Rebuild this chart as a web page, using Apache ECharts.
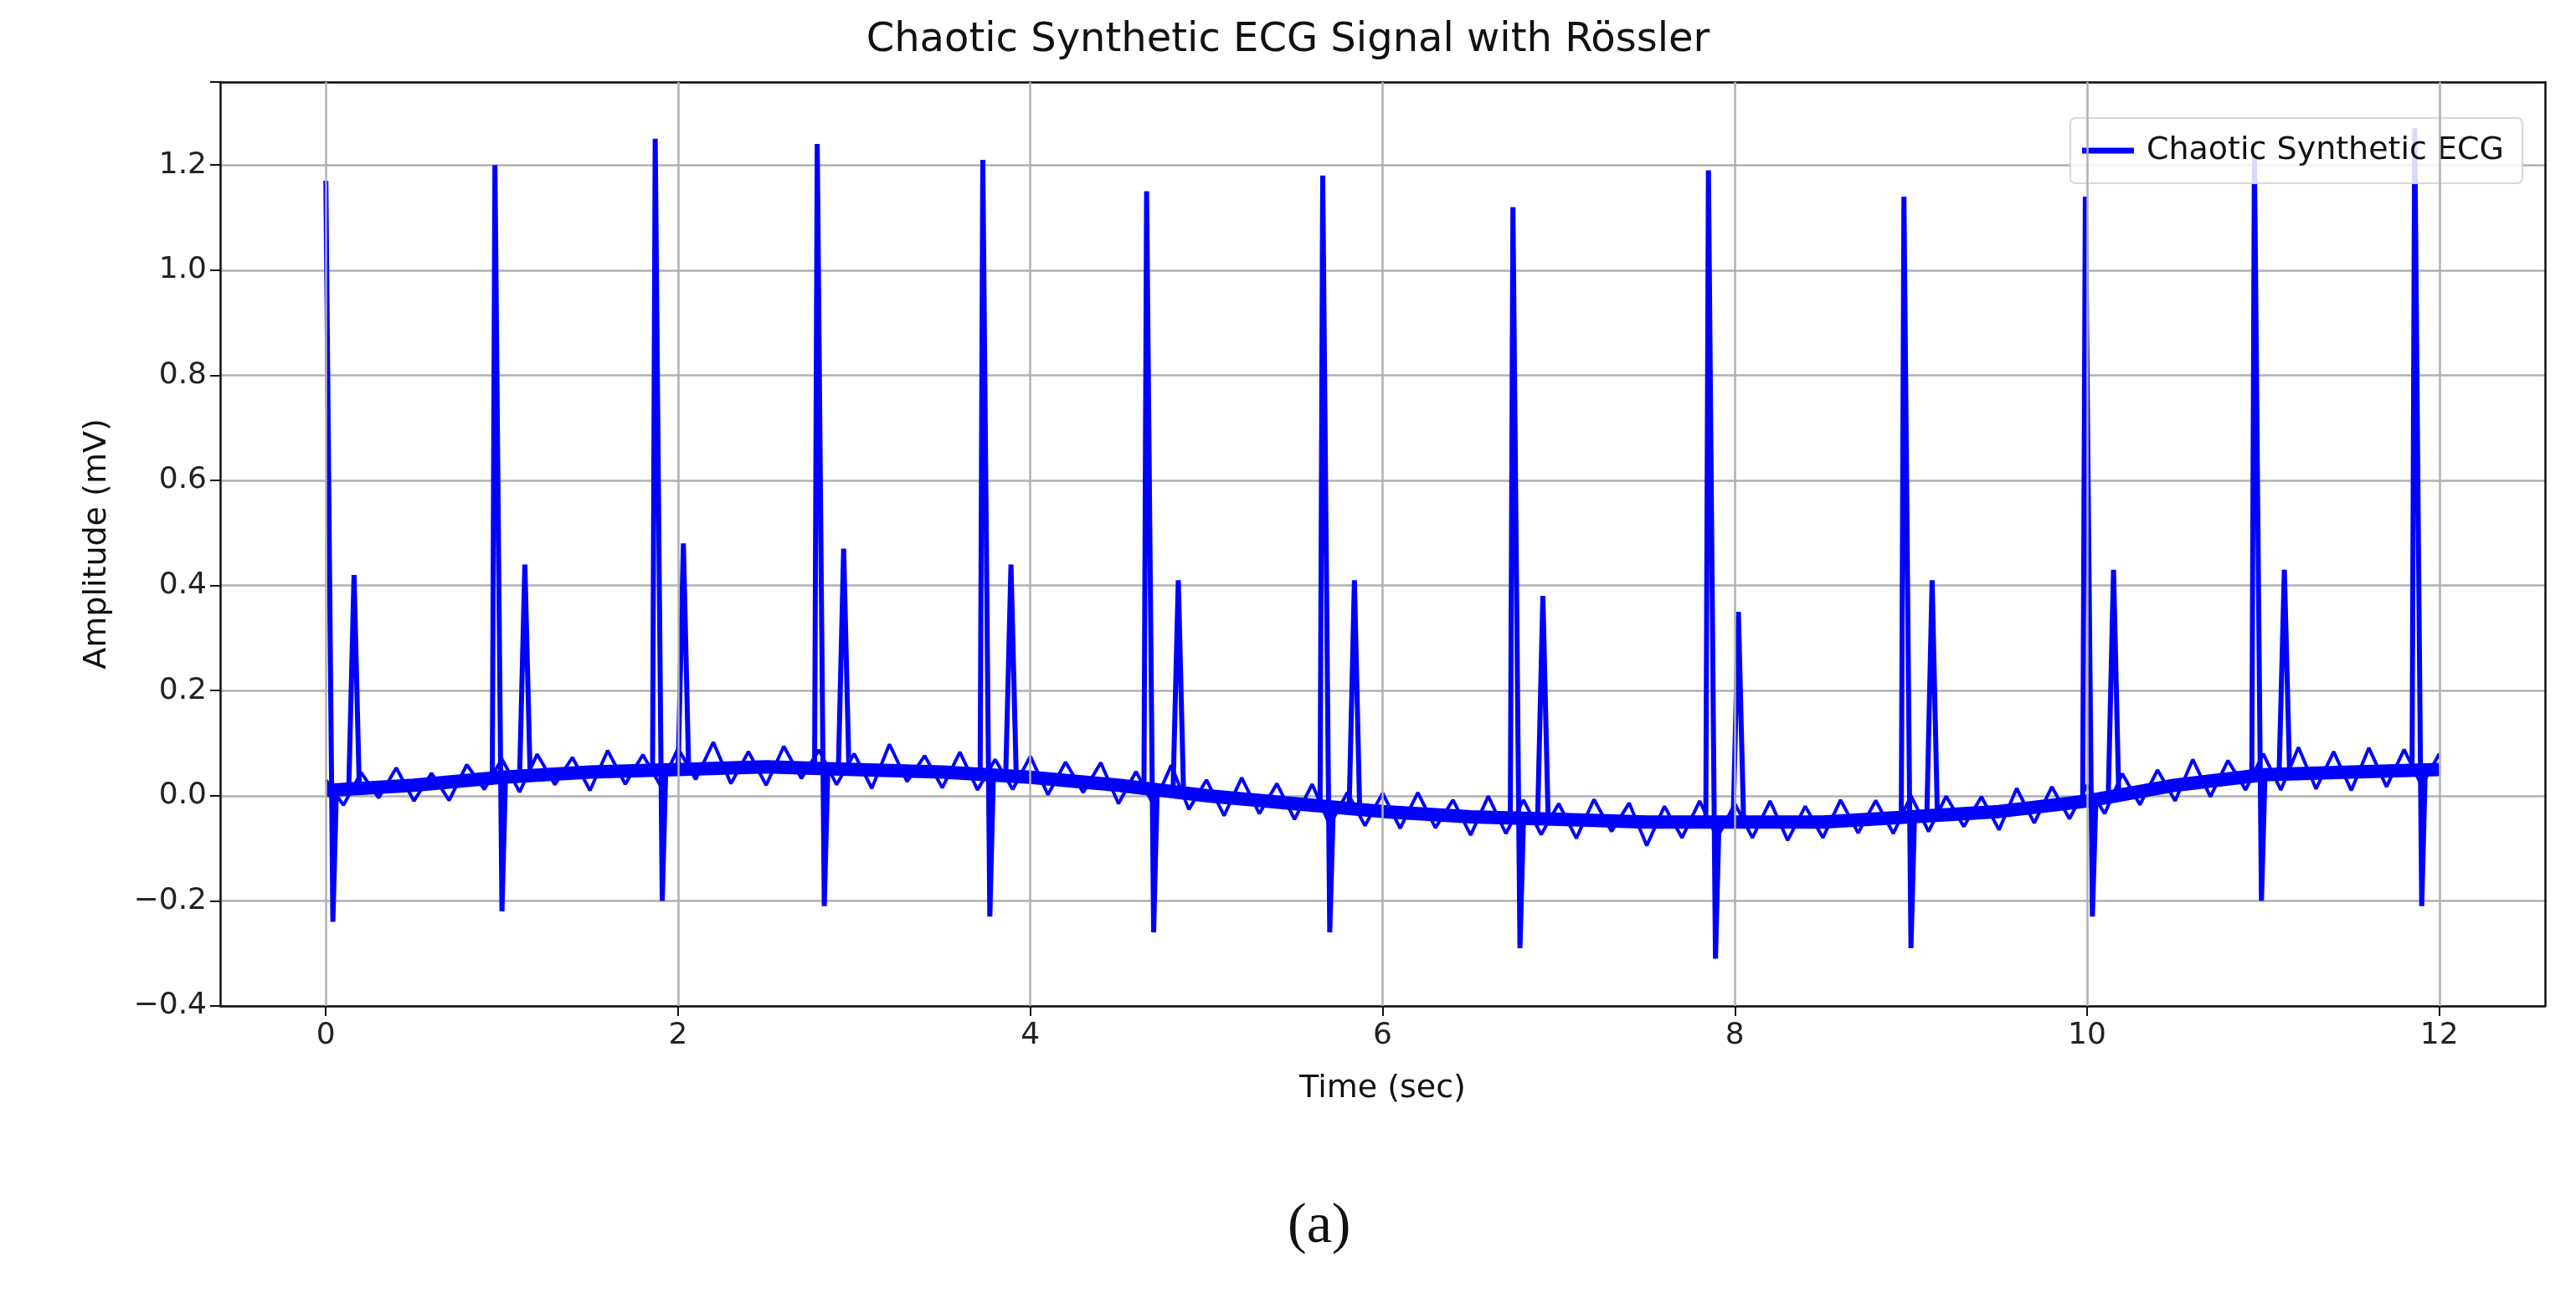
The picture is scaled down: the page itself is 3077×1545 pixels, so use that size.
<!DOCTYPE html>
<html><head><meta charset="utf-8">
<script src="https://cdn.jsdelivr.net/npm/echarts@6/dist/echarts.min.js"></script>
<style>html,body{margin:0;background:#fff}#c{width:3077px;height:1545px}</style>
</head><body><div id="c"></div>
<script>
// Baseline (wandering) every 0.5 s
const baseTimes = [0,0.5,1,1.5,2,2.5,3,3.5,4,4.5,5,5.5,6,6.5,7,7.5,8,8.5,9,9.5,10,10.5,11,11.5,12];
const baseVals = [0.01,0.02,0.035,0.045,0.05,0.055,0.05,0.045,0.035,0.02,0.0,-0.015,-0.03,-0.04,-0.045,-0.05,-0.05,-0.05,-0.04,-0.03,-0.01,0.02,0.04,0.045,0.05];
// Noise offsets read every 0.1 s around the baseline
const noiseVals = [0.02,-0.03,0.03,-0.02,0.035,-0.03,0.02,-0.035,0.03,-0.02,
 0.035,-0.03,0.04,-0.02,0.03,-0.035,0.04,-0.025,0.03,-0.03,
 0.04,-0.02,0.05,-0.03,0.03,-0.035,0.04,-0.02,0.035,-0.03,
 0.03,-0.035,0.05,-0.02,0.03,-0.03,0.04,-0.03,0.03,-0.025,
 0.04,-0.03,0.035,-0.02,0.04,-0.035,0.03,-0.03,0.05,-0.03,
 0.03,-0.035,0.04,-0.025,0.035,-0.03,0.04,-0.035,0.03,-0.03,
 0.035,-0.03,0.04,-0.025,0.03,-0.035,0.04,-0.03,0.035,-0.03,
 0.03,-0.035,0.04,-0.02,0.035,-0.045,0.03,-0.03,0.04,-0.03,
 0.035,-0.03,0.04,-0.035,0.03,-0.03,0.04,-0.025,0.035,-0.03,
 0.04,-0.03,0.035,-0.025,0.03,-0.035,0.04,-0.03,0.035,-0.03,
 0.03,-0.03,0.04,-0.025,0.035,-0.03,0.045,-0.03,0.035,-0.025,
 0.04,-0.03,0.05,-0.03,0.04,-0.035,0.045,-0.03,0.04,-0.03,0.03];
// Beats
const rTimes = [0.0,0.96,1.87,2.79,3.73,4.66,5.66,6.74,7.85,8.96,9.99,10.95,11.86];
const rVals = [1.17,1.20,1.25,1.24,1.21,1.15,1.18,1.12,1.19,1.14,1.14,1.22,1.27];
const sVals = [-0.24,-0.22,-0.20,-0.21,-0.23,-0.26,-0.26,-0.29,-0.31,-0.29,-0.23,-0.20,-0.21];
const tTimes = [0.16,1.13,2.03,2.94,3.89,4.84,5.84,6.91,8.02,9.12,10.15,11.12];
const tVals = [0.42,0.44,0.48,0.47,0.44,0.41,0.41,0.38,0.35,0.41,0.43,0.43];
const xTicks = [0,2,4,6,8,10,12];

function baseAt(t){
  for(let i=0;i<baseTimes.length-1;i++){
    if(t<=baseTimes[i+1]){const f=(t-baseTimes[i])/(baseTimes[i+1]-baseTimes[i]);return baseVals[i]+f*(baseVals[i+1]-baseVals[i]);}
  }
  return baseVals[baseVals.length-1];
}
const pts=[];
rTimes.forEach((t,i)=>{
  if(t>0.001) pts.push([t-0.015,baseAt(t)]);
  pts.push([t,rVals[i]]);
  pts.push([t+0.04,sVals[i]]);
  pts.push([t+0.06,baseAt(t+0.06)]);
});
tTimes.forEach((t,i)=>{
  pts.push([t-0.03,baseAt(t-0.03)]);
  pts.push([t,tVals[i]]);
  pts.push([t+0.03,baseAt(t+0.03)]);
});
pts.sort((a,b)=>a[0]-b[0]);
const bandData = baseTimes.map((t,i)=>[t,baseVals[i]]);
const noiseData = noiseVals.map((v,i)=>{const t=i*0.1;return [t,baseAt(t)+v];});
// break the spike line between beats into separate segments
const spikeData=[];
for(let k=0;k<pts.length;k++){spikeData.push(pts[k]); if(k<pts.length-1 && pts[k+1][0]-pts[k][0]>0.2) spikeData.push('-');}

const chart=echarts.init(document.getElementById('c'));
const ff='DejaVu Sans';
const lbl={color:'#222',fontSize:36,fontFamily:ff};
const axLine={show:true,onZero:false,lineStyle:{color:'#111',width:2.5}};
const tick={show:true,length:12,inside:false,lineStyle:{color:'#111',width:2}};
chart.setOption({
  animation:false,
  title:{text:'Chaotic Synthetic ECG Signal with Rössler',left:'center',top:20,textStyle:{fontSize:48,fontWeight:'normal',color:'#111',fontFamily:ff}},
  grid:{left:263,right:37,top:98,bottom:343},
  legend:{right:64,top:141,itemWidth:62,itemHeight:7,padding:[20,22,20,14],borderColor:'#d8d8d8',borderWidth:2,borderRadius:6,backgroundColor:'rgba(255,255,255,0.85)',textStyle:{fontSize:38,color:'#111',fontFamily:ff,padding:[0,0,0,10]},data:[{name:'Chaotic Synthetic ECG',icon:'rect'}]},
  xAxis:[{type:'value',min:-0.6,max:12.6,
    axisLine:axLine,axisTick:Object.assign({customValues:xTicks},tick),
    axisLabel:Object.assign({margin:18,customValues:xTicks},lbl),
    splitLine:{show:false},
    name:'Time (sec)',nameLocation:'middle',nameGap:80,nameTextStyle:{fontSize:38,color:'#111',fontFamily:ff}},
    {type:'value',position:'top',min:-0.6,max:12.6,axisLine:axLine,axisTick:{show:false},axisLabel:{show:false},splitLine:{show:false}}],
  yAxis:[{type:'value',min:-0.4,max:1.358,interval:0.2,
    axisLine:axLine,axisTick:tick,
    axisLabel:Object.assign({margin:16,formatter:v=>(Math.abs(v)>1.3?'':(v<0?'\u2212':'')+Math.abs(v).toFixed(1))},lbl),
    splitLine:{show:true,lineStyle:{color:'#b0b0b0',width:2.5}},
    name:'Amplitude (mV)',nameLocation:'middle',nameGap:128,nameTextStyle:{fontSize:38,color:'#111',fontFamily:ff}},
    {type:'value',position:'right',min:-0.4,max:1.358,axisLine:axLine,axisTick:{show:false},axisLabel:{show:false},splitLine:{show:false}}],
  series:[
    {type:'line',data:[],silent:true,markLine:{symbol:'none',silent:true,label:{show:false},lineStyle:{color:'#b0b0b0',width:2.5,type:'solid'},data:xTicks.map(v=>({xAxis:v}))}},
    {name:'Chaotic Synthetic ECG',type:'line',data:bandData,showSymbol:false,lineStyle:{color:'#0000ff',width:16},itemStyle:{color:'#0000ff'}},
    {name:'Chaotic Synthetic ECG',type:'line',data:noiseData,showSymbol:false,sampling:null,lineStyle:{color:'#0000ff',width:4},itemStyle:{color:'#0000ff'}},
    {name:'Chaotic Synthetic ECG',type:'line',data:spikeData,connectNulls:false,showSymbol:false,sampling:null,lineStyle:{color:'#0000ff',width:6},itemStyle:{color:'#0000ff'}}
  ],
  graphic:[{type:'text',left:1538,top:1432,style:{text:'(a)',font:'68px "Liberation Serif"',fill:'#111'}}]
});
</script></body></html>
